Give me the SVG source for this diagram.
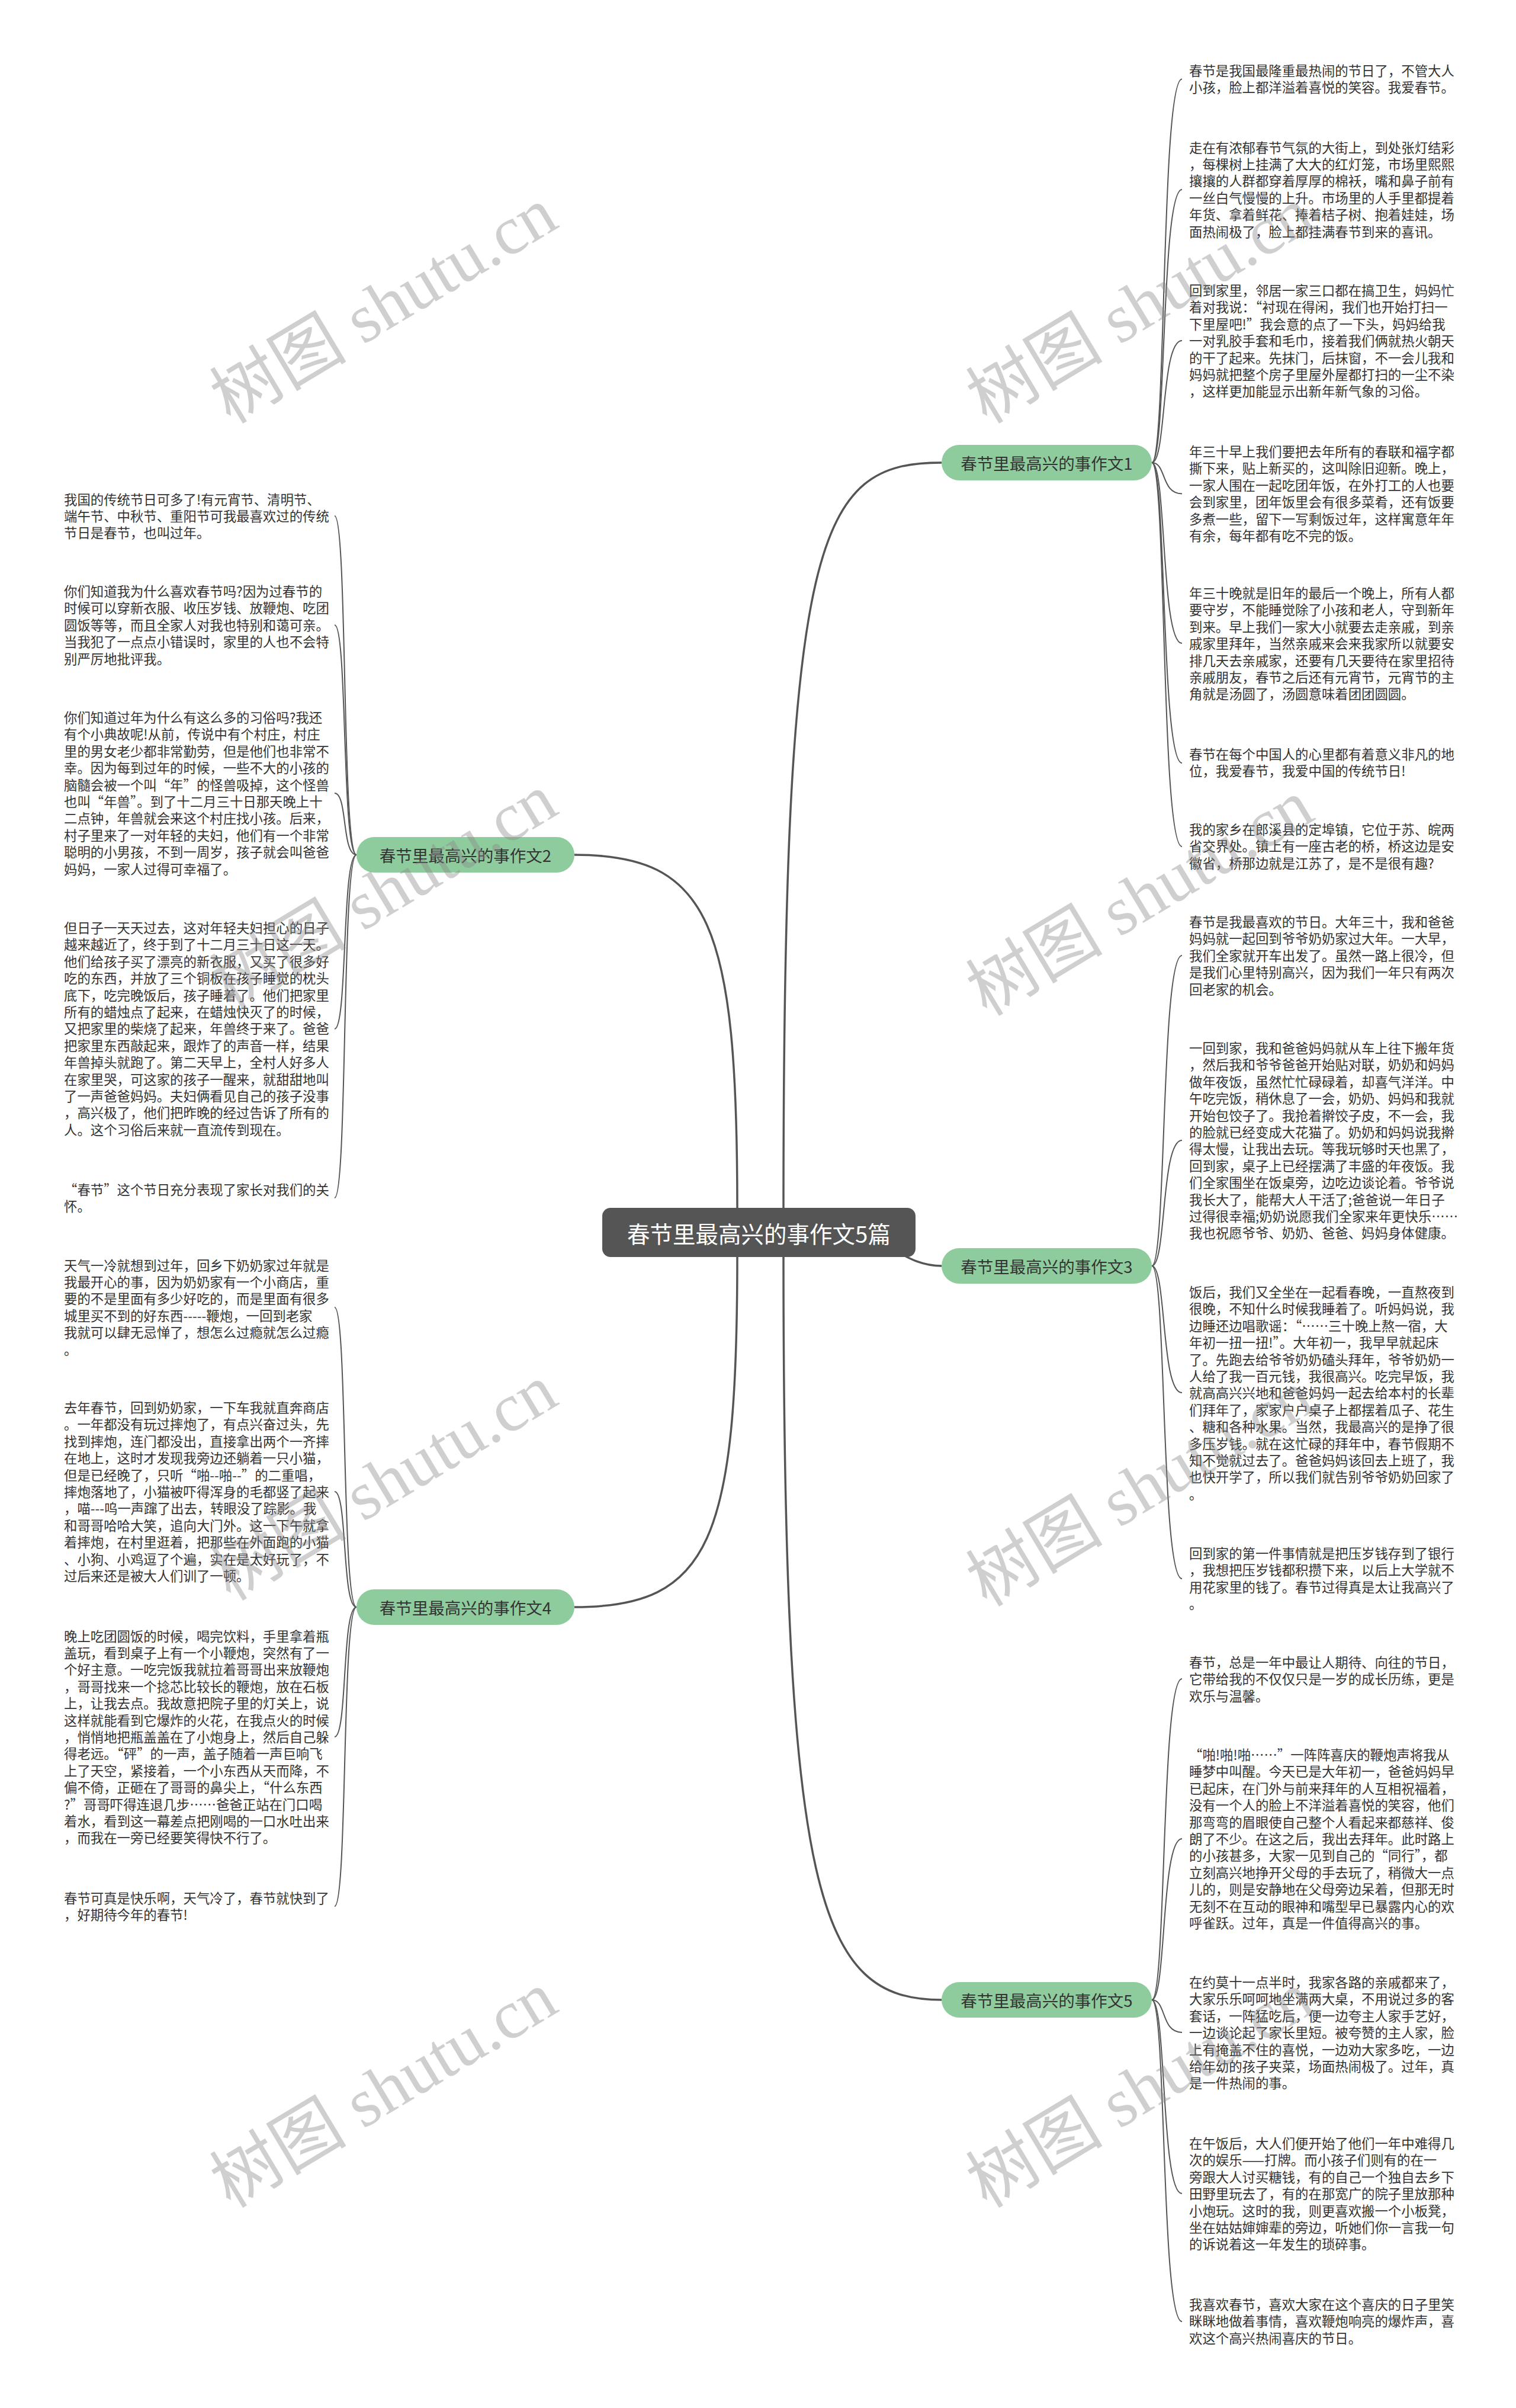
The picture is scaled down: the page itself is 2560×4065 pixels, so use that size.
<svg xmlns="http://www.w3.org/2000/svg" width="2560" height="4065" viewBox="0 0 2560 4065">
<style>
.t{font-family:"Noto Sans CJK SC","Noto Sans",sans-serif;font-size:22.4px;fill:#333}
.bt{font-family:"Noto Sans CJK SC","Noto Sans",sans-serif;font-size:27.5px;fill:#333;text-anchor:middle;dominant-baseline:central}
.ct{font-family:"Noto Sans CJK SC","Noto Sans",sans-serif;font-size:38.5px;fill:#fff;text-anchor:middle;dominant-baseline:central}
.bn{fill:#8fcc9d}
.lk{fill:none;stroke:#555;stroke-width:2}
.mk{fill:none;stroke:#555;stroke-width:3.5}
.wm{font-family:"Liberation Serif","Noto Sans CJK SC",serif;font-size:116px;fill:#888;opacity:.4;text-anchor:middle;dominant-baseline:central}
</style>
<rect width="2560" height="4065" fill="#fff"/>
<g id="connectors">
<path class="mk" d="M1323 2040 C1323 900 1380 781 1590 781"/>
<path class="mk" d="M1400 2080 C1500 2080 1520 2137 1590 2137"/>
<path class="mk" d="M1323 2120 C1323 3200 1380 3376 1590 3376"/>
<path class="mk" d="M1245 2040 C1245 1560 1200 1443 970 1443"/>
<path class="mk" d="M1245 2120 C1245 2600 1200 2713 970 2713"/>
<g id="leaf-links-1">
<path class="lk" d="M1945 781 C1970 781 1960 133.5 1996 133.5"/>
<path class="lk" d="M1945 781 C1970 781 1960 320 1996 320"/>
<path class="lk" d="M1945 781 C1970 781 1960 575 1996 575"/>
<path class="lk" d="M1945 781 C1970 781 1960 833.5 1996 833.5"/>
<path class="lk" d="M1945 781 C1970 781 1960 1086 1996 1086"/>
<path class="lk" d="M1945 781 C1970 781 1960 1288 1996 1288"/>
<path class="lk" d="M1945 781 C1970 781 1960 1429 1996 1429"/>
</g>
<g id="leaf-links-3">
<path class="lk" d="M1945 2137 C1970 2137 1960 1613 1996 1613"/>
<path class="lk" d="M1945 2137 C1970 2137 1960 1925 1996 1925"/>
<path class="lk" d="M1945 2137 C1970 2137 1960 2351 1996 2351"/>
<path class="lk" d="M1945 2137 C1970 2137 1960 2665 1996 2665"/>
</g>
<g id="leaf-links-5">
<path class="lk" d="M1945 3376 C1970 3376 1960 2834 1996 2834"/>
<path class="lk" d="M1945 3376 C1970 3376 1960 3104 1996 3104"/>
<path class="lk" d="M1945 3376 C1970 3376 1960 3431 1996 3431"/>
<path class="lk" d="M1945 3376 C1970 3376 1960 3703 1996 3703"/>
<path class="lk" d="M1945 3376 C1970 3376 1960 3919 1996 3919"/>
</g>
<g id="leaf-links-2">
<path class="lk" d="M602 1443 C577 1443 587 871 565 871"/>
<path class="lk" d="M602 1443 C577 1443 587 1055 565 1055"/>
<path class="lk" d="M602 1443 C577 1443 587 1339 565 1339"/>
<path class="lk" d="M602 1443 C577 1443 587 1737 565 1737"/>
<path class="lk" d="M602 1443 C577 1443 587 2022 565 2022"/>
</g>
<g id="leaf-links-4">
<path class="lk" d="M602 2713 C577 2713 587 2207 565 2207"/>
<path class="lk" d="M602 2713 C577 2713 587 2518 565 2518"/>
<path class="lk" d="M602 2713 C577 2713 587 2932 565 2932"/>
<path class="lk" d="M602 2713 C577 2713 587 3218 565 3218"/>
</g>
</g>
<g id="center">
<rect x="1017" y="2039" width="529" height="83" rx="14" fill="#555"/>
<text class="ct" x="1281.5" y="2080.5">春节里最高兴的事作文5篇</text>
</g>
<g id="branch1"><rect class="bn" x="1590" y="751" width="355" height="60" rx="30"/><text class="bt" x="1767.5" y="781">春节里最高兴的事作文1</text></g>
<g id="branch3"><rect class="bn" x="1590" y="2107" width="355" height="60" rx="30"/><text class="bt" x="1767.5" y="2137">春节里最高兴的事作文3</text></g>
<g id="branch5"><rect class="bn" x="1590" y="3346" width="355" height="60" rx="30"/><text class="bt" x="1767.5" y="3376">春节里最高兴的事作文5</text></g>
<g id="branch2"><rect class="bn" x="602" y="1413" width="368" height="60" rx="30"/><text class="bt" x="786" y="1443">春节里最高兴的事作文2</text></g>
<g id="branch4"><rect class="bn" x="602" y="2683" width="368" height="60" rx="30"/><text class="bt" x="786" y="2713">春节里最高兴的事作文4</text></g>

<g id="leaf-1-1"><text class="t" x="2008" y="128"><tspan x="2008">春节是我国最隆重最热闹的节日了，不管大人</tspan><tspan x="2008" dy="28.4">小孩，脸上都洋溢着喜悦的笑容。我爱春节。</tspan></text></g>
<g id="leaf-1-2"><text class="t" x="2008" y="257.5"><tspan x="2008">走在有浓郁春节气氛的大街上，到处张灯结彩</tspan><tspan x="2008" dy="28.4">，每棵树上挂满了大大的红灯笼，市场里熙熙</tspan><tspan x="2008" dy="28.4">攘攘的人群都穿着厚厚的棉袄，嘴和鼻子前有</tspan><tspan x="2008" dy="28.4">一丝白气慢慢的上升。市场里的人手里都提着</tspan><tspan x="2008" dy="28.4">年货、拿着鲜花、捧着桔子树、抱着娃娃，场</tspan><tspan x="2008" dy="28.4">面热闹极了，脸上都挂满春节到来的喜讯。</tspan></text></g>
<g id="leaf-1-3"><text class="t" x="2008" y="499"><tspan x="2008">回到家里，邻居一家三口都在搞卫生，妈妈忙</tspan><tspan x="2008" dy="28.4">着对我说：“衬现在得闲，我们也开始打扫一</tspan><tspan x="2008" dy="28.4">下里屋吧!”我会意的点了一下头，妈妈给我</tspan><tspan x="2008" dy="28.4">一对乳胶手套和毛巾，接着我们俩就热火朝天</tspan><tspan x="2008" dy="28.4">的干了起来。先抹门，后抹窗，不一会儿我和</tspan><tspan x="2008" dy="28.4">妈妈就把整个房子里屋外屋都打扫的一尘不染</tspan><tspan x="2008" dy="28.4">，这样更加能显示出新年新气象的习俗。</tspan></text></g>
<g id="leaf-1-4"><text class="t" x="2008" y="771"><tspan x="2008">年三十早上我们要把去年所有的春联和福字都</tspan><tspan x="2008" dy="28.4">撕下来，贴上新买的，这叫除旧迎新。晚上，</tspan><tspan x="2008" dy="28.4">一家人围在一起吃团年饭，在外打工的人也要</tspan><tspan x="2008" dy="28.4">会到家里，团年饭里会有很多菜肴，还有饭要</tspan><tspan x="2008" dy="28.4">多煮一些，留下一写剩饭过年，这样寓意年年</tspan><tspan x="2008" dy="28.4">有余，每年都有吃不完的饭。</tspan></text></g>
<g id="leaf-1-5"><text class="t" x="2008" y="1010"><tspan x="2008">年三十晚就是旧年的最后一个晚上，所有人都</tspan><tspan x="2008" dy="28.4">要守岁，不能睡觉除了小孩和老人，守到新年</tspan><tspan x="2008" dy="28.4">到来。早上我们一家大小就要去走亲戚，到亲</tspan><tspan x="2008" dy="28.4">戚家里拜年，当然亲戚来会来我家所以就要安</tspan><tspan x="2008" dy="28.4">排几天去亲戚家，还要有几天要待在家里招待</tspan><tspan x="2008" dy="28.4">亲戚朋友，春节之后还有元宵节，元宵节的主</tspan><tspan x="2008" dy="28.4">角就是汤圆了，汤圆意味着团团圆圆。</tspan></text></g>
<g id="leaf-1-6"><text class="t" x="2008" y="1282"><tspan x="2008">春节在每个中国人的心里都有着意义非凡的地</tspan><tspan x="2008" dy="28.4">位，我爱春节，我爱中国的传统节日!</tspan></text></g>
<g id="leaf-1-7"><text class="t" x="2008" y="1409"><tspan x="2008">我的家乡在郎溪县的定埠镇，它位于苏、皖两</tspan><tspan x="2008" dy="28.4">省交界处。镇上有一座古老的桥，桥这边是安</tspan><tspan x="2008" dy="28.4">徽省，桥那边就是江苏了，是不是很有趣?</tspan></text></g>

<g id="leaf-3-1"><text class="t" x="2008" y="1565"><tspan x="2008">春节是我最喜欢的节日。大年三十，我和爸爸</tspan><tspan x="2008" dy="28.4">妈妈就一起回到爷爷奶奶家过大年。一大早，</tspan><tspan x="2008" dy="28.4">我们全家就开车出发了。虽然一路上很冷，但</tspan><tspan x="2008" dy="28.4">是我们心里特别高兴，因为我们一年只有两次</tspan><tspan x="2008" dy="28.4">回老家的机会。</tspan></text></g>
<g id="leaf-3-2"><text class="t" x="2008" y="1778"><tspan x="2008">一回到家，我和爸爸妈妈就从车上往下搬年货</tspan><tspan x="2008" dy="28.4">，然后我和爷爷爸爸开始贴对联，奶奶和妈妈</tspan><tspan x="2008" dy="28.4">做年夜饭，虽然忙忙碌碌着，却喜气洋洋。中</tspan><tspan x="2008" dy="28.4">午吃完饭，稍休息了一会，奶奶、妈妈和我就</tspan><tspan x="2008" dy="28.4">开始包饺子了。我抢着擀饺子皮，不一会，我</tspan><tspan x="2008" dy="28.4">的脸就已经变成大花猫了。奶奶和妈妈说我擀</tspan><tspan x="2008" dy="28.4">得太慢，让我出去玩。等我玩够时天也黑了，</tspan><tspan x="2008" dy="28.4">回到家，桌子上已经摆满了丰盛的年夜饭。我</tspan><tspan x="2008" dy="28.4">们全家围坐在饭桌旁，边吃边谈论着。爷爷说</tspan><tspan x="2008" dy="28.4">我长大了，能帮大人干活了;爸爸说一年日子</tspan><tspan x="2008" dy="28.4">过得很幸福;奶奶说愿我们全家来年更快乐……</tspan><tspan x="2008" dy="28.4">我也祝愿爷爷、奶奶、爸爸、妈妈身体健康。</tspan></text></g>
<g id="leaf-3-3"><text class="t" x="2008" y="2190"><tspan x="2008">饭后，我们又全坐在一起看春晚，一直熬夜到</tspan><tspan x="2008" dy="28.4">很晚，不知什么时候我睡着了。听妈妈说，我</tspan><tspan x="2008" dy="28.4">边睡还边唱歌谣：“……三十晚上熬一宿，大</tspan><tspan x="2008" dy="28.4">年初一扭一扭!”。大年初一，我早早就起床</tspan><tspan x="2008" dy="28.4">了。先跑去给爷爷奶奶磕头拜年，爷爷奶奶一</tspan><tspan x="2008" dy="28.4">人给了我一百元钱，我很高兴。吃完早饭，我</tspan><tspan x="2008" dy="28.4">就高高兴兴地和爸爸妈妈一起去给本村的长辈</tspan><tspan x="2008" dy="28.4">们拜年了，家家户户桌子上都摆着瓜子、花生</tspan><tspan x="2008" dy="28.4">、糖和各种水果。当然，我最高兴的是挣了很</tspan><tspan x="2008" dy="28.4">多压岁钱。就在这忙碌的拜年中，春节假期不</tspan><tspan x="2008" dy="28.4">知不觉就过去了。爸爸妈妈该回去上班了，我</tspan><tspan x="2008" dy="28.4">也快开学了，所以我们就告别爷爷奶奶回家了</tspan><tspan x="2008" dy="28.4">。</tspan></text></g>
<g id="leaf-3-4"><text class="t" x="2008" y="2631"><tspan x="2008">回到家的第一件事情就是把压岁钱存到了银行</tspan><tspan x="2008" dy="28.4">，我想把压岁钱都积攒下来，以后上大学就不</tspan><tspan x="2008" dy="28.4">用花家里的钱了。春节过得真是太让我高兴了</tspan><tspan x="2008" dy="28.4">。</tspan></text></g>

<g id="leaf-5-1"><text class="t" x="2008" y="2815"><tspan x="2008">春节，总是一年中最让人期待、向往的节日，</tspan><tspan x="2008" dy="28.4">它带给我的不仅仅只是一岁的成长历练，更是</tspan><tspan x="2008" dy="28.4">欢乐与温馨。</tspan></text></g>
<g id="leaf-5-2"><text class="t" x="2008" y="2971"><tspan x="2008">“啪!啪!啪……”一阵阵喜庆的鞭炮声将我从</tspan><tspan x="2008" dy="28.4">睡梦中叫醒。今天已是大年初一，爸爸妈妈早</tspan><tspan x="2008" dy="28.4">已起床，在门外与前来拜年的人互相祝福着，</tspan><tspan x="2008" dy="28.4">没有一个人的脸上不洋溢着喜悦的笑容，他们</tspan><tspan x="2008" dy="28.4">那弯弯的眉眼使自己整个人看起来都慈祥、俊</tspan><tspan x="2008" dy="28.4">朗了不少。在这之后，我出去拜年。此时路上</tspan><tspan x="2008" dy="28.4">的小孩甚多，大家一见到自己的“同行”，都</tspan><tspan x="2008" dy="28.4">立刻高兴地挣开父母的手去玩了，稍微大一点</tspan><tspan x="2008" dy="28.4">儿的，则是安静地在父母旁边呆着，但那无时</tspan><tspan x="2008" dy="28.4">无刻不在互动的眼神和嘴型早已暴露内心的欢</tspan><tspan x="2008" dy="28.4">呼雀跃。过年，真是一件值得高兴的事。</tspan></text></g>
<g id="leaf-5-3"><text class="t" x="2008" y="3355"><tspan x="2008">在约莫十一点半时，我家各路的亲戚都来了，</tspan><tspan x="2008" dy="28.4">大家乐乐呵呵地坐满两大桌，不用说过多的客</tspan><tspan x="2008" dy="28.4">套话，一阵猛吃后，便一边夸主人家手艺好，</tspan><tspan x="2008" dy="28.4">一边谈论起了家长里短。被夸赞的主人家，脸</tspan><tspan x="2008" dy="28.4">上有掩盖不住的喜悦，一边劝大家多吃，一边</tspan><tspan x="2008" dy="28.4">给年幼的孩子夹菜，场面热闹极了。过年，真</tspan><tspan x="2008" dy="28.4">是一件热闹的事。</tspan></text></g>
<g id="leaf-5-4"><text class="t" x="2008" y="3627"><tspan x="2008">在午饭后，大人们便开始了他们一年中难得几</tspan><tspan x="2008" dy="28.4">次的娱乐——打牌。而小孩子们则有的在一</tspan><tspan x="2008" dy="28.4">旁跟大人讨买糖钱，有的自己一个独自去乡下</tspan><tspan x="2008" dy="28.4">田野里玩去了，有的在那宽广的院子里放那种</tspan><tspan x="2008" dy="28.4">小炮玩。这时的我，则更喜欢搬一个小板凳，</tspan><tspan x="2008" dy="28.4">坐在姑姑婶婶辈的旁边，听她们你一言我一句</tspan><tspan x="2008" dy="28.4">的诉说着这一年发生的琐碎事。</tspan></text></g>
<g id="leaf-5-5"><text class="t" x="2008" y="3899"><tspan x="2008">我喜欢春节，喜欢大家在这个喜庆的日子里笑</tspan><tspan x="2008" dy="28.4">眯眯地做着事情，喜欢鞭炮响亮的爆炸声，喜</tspan><tspan x="2008" dy="28.4">欢这个高兴热闹喜庆的节日。</tspan></text></g>

<g id="leaf-2-1"><text class="t" x="108" y="851.5"><tspan x="108">我国的传统节日可多了!有元宵节、清明节、</tspan><tspan x="108" dy="28.4">端午节、中秋节、重阳节可我最喜欢过的传统</tspan><tspan x="108" dy="28.4">节日是春节，也叫过年。</tspan></text></g>
<g id="leaf-2-2"><text class="t" x="108" y="1007"><tspan x="108">你们知道我为什么喜欢春节吗?因为过春节的</tspan><tspan x="108" dy="28.4">时候可以穿新衣服、收压岁钱、放鞭炮、吃团</tspan><tspan x="108" dy="28.4">圆饭等等，而且全家人对我也特别和蔼可亲。</tspan><tspan x="108" dy="28.4">当我犯了一点点小错误时，家里的人也不会特</tspan><tspan x="108" dy="28.4">别严厉地批评我。</tspan></text></g>
<g id="leaf-2-3"><text class="t" x="108" y="1220"><tspan x="108">你们知道过年为什么有这么多的习俗吗?我还</tspan><tspan x="108" dy="28.4">有个小典故呢!从前，传说中有个村庄，村庄</tspan><tspan x="108" dy="28.4">里的男女老少都非常勤劳，但是他们也非常不</tspan><tspan x="108" dy="28.4">幸。因为每到过年的时候，一些不大的小孩的</tspan><tspan x="108" dy="28.4">脑髓会被一个叫“年”的怪兽吸掉，这个怪兽</tspan><tspan x="108" dy="28.4">也叫“年兽”。到了十二月三十日那天晚上十</tspan><tspan x="108" dy="28.4">二点钟，年兽就会来这个村庄找小孩。后来，</tspan><tspan x="108" dy="28.4">村子里来了一对年轻的夫妇，他们有一个非常</tspan><tspan x="108" dy="28.4">聪明的小男孩，不到一周岁，孩子就会叫爸爸</tspan><tspan x="108" dy="28.4">妈妈，一家人过得可幸福了。</tspan></text></g>
<g id="leaf-2-4"><text class="t" x="108" y="1575"><tspan x="108">但日子一天天过去，这对年轻夫妇担心的日子</tspan><tspan x="108" dy="28.4">越来越近了，终于到了十二月三十日这一天。</tspan><tspan x="108" dy="28.4">他们给孩子买了漂亮的新衣服，又买了很多好</tspan><tspan x="108" dy="28.4">吃的东西，并放了三个铜板在孩子睡觉的枕头</tspan><tspan x="108" dy="28.4">底下，吃完晚饭后，孩子睡着了。他们把家里</tspan><tspan x="108" dy="28.4">所有的蜡烛点了起来，在蜡烛快灭了的时候，</tspan><tspan x="108" dy="28.4">又把家里的柴烧了起来，年兽终于来了。爸爸</tspan><tspan x="108" dy="28.4">把家里东西敲起来，跟炸了的声音一样，结果</tspan><tspan x="108" dy="28.4">年兽掉头就跑了。第二天早上，全村人好多人</tspan><tspan x="108" dy="28.4">在家里哭，可这家的孩子一醒来，就甜甜地叫</tspan><tspan x="108" dy="28.4">了一声爸爸妈妈。夫妇俩看见自己的孩子没事</tspan><tspan x="108" dy="28.4">，高兴极了，他们把昨晚的经过告诉了所有的</tspan><tspan x="108" dy="28.4">人。这个习俗后来就一直流传到现在。</tspan></text></g>
<g id="leaf-2-5"><text class="t" x="108" y="2016.5"><tspan x="108">“春节”这个节日充分表现了家长对我们的关</tspan><tspan x="108" dy="28.4">怀。</tspan></text></g>

<g id="leaf-4-1"><text class="t" x="108" y="2144.5"><tspan x="108">天气一冷就想到过年，回乡下奶奶家过年就是</tspan><tspan x="108" dy="28.4">我最开心的事，因为奶奶家有一个小商店，重</tspan><tspan x="108" dy="28.4">要的不是里面有多少好吃的，而是里面有很多</tspan><tspan x="108" dy="28.4">城里买不到的好东西-----鞭炮，一回到老家</tspan><tspan x="108" dy="28.4">我就可以肆无忌惮了，想怎么过瘾就怎么过瘾</tspan><tspan x="108" dy="28.4">。</tspan></text></g>
<g id="leaf-4-2"><text class="t" x="108" y="2385"><tspan x="108">去年春节，回到奶奶家，一下车我就直奔商店</tspan><tspan x="108" dy="28.4">。一年都没有玩过摔炮了，有点兴奋过头，先</tspan><tspan x="108" dy="28.4">找到摔炮，连门都没出，直接拿出两个一齐摔</tspan><tspan x="108" dy="28.4">在地上，这时才发现我旁边还躺着一只小猫，</tspan><tspan x="108" dy="28.4">但是已经晚了，只听“啪--啪--”的二重唱，</tspan><tspan x="108" dy="28.4">摔炮落地了，小猫被吓得浑身的毛都竖了起来</tspan><tspan x="108" dy="28.4">，喵---呜一声蹿了出去，转眼没了踪影。我</tspan><tspan x="108" dy="28.4">和哥哥哈哈大笑，追向大门外。这一下午就拿</tspan><tspan x="108" dy="28.4">着摔炮，在村里逛着，把那些在外面跑的小猫</tspan><tspan x="108" dy="28.4">、小狗、小鸡逗了个遍，实在是太好玩了，不</tspan><tspan x="108" dy="28.4">过后来还是被大人们训了一顿。</tspan></text></g>
<g id="leaf-4-3"><text class="t" x="108" y="2770.5"><tspan x="108">晚上吃团圆饭的时候，喝完饮料，手里拿着瓶</tspan><tspan x="108" dy="28.4">盖玩，看到桌子上有一个小鞭炮，突然有了一</tspan><tspan x="108" dy="28.4">个好主意。一吃完饭我就拉着哥哥出来放鞭炮</tspan><tspan x="108" dy="28.4">，哥哥找来一个捻芯比较长的鞭炮，放在石板</tspan><tspan x="108" dy="28.4">上，让我去点。我故意把院子里的灯关上，说</tspan><tspan x="108" dy="28.4">这样就能看到它爆炸的火花，在我点火的时候</tspan><tspan x="108" dy="28.4">，悄悄地把瓶盖盖在了小炮身上，然后自己躲</tspan><tspan x="108" dy="28.4">得老远。“砰”的一声，盖子随着一声巨响飞</tspan><tspan x="108" dy="28.4">上了天空，紧接着，一个小东西从天而降，不</tspan><tspan x="108" dy="28.4">偏不倚，正砸在了哥哥的鼻尖上，“什么东西</tspan><tspan x="108" dy="28.4">?”哥哥吓得连退几步……爸爸正站在门口喝</tspan><tspan x="108" dy="28.4">着水，看到这一幕差点把刚喝的一口水吐出来</tspan><tspan x="108" dy="28.4">，而我在一旁已经要笑得快不行了。</tspan></text></g>
<g id="leaf-4-4"><text class="t" x="108" y="3212.5"><tspan x="108">春节可真是快乐啊，天气冷了，春节就快到了</tspan><tspan x="108" dy="28.4">，好期待今年的春节!</tspan></text></g>

<g id="watermarks">
<text class="wm" transform="translate(648 516) rotate(-31)">树图 shutu.cn</text>
<text class="wm" transform="translate(1925 516) rotate(-31)">树图 shutu.cn</text>
<text class="wm" transform="translate(648 1506) rotate(-31)">树图 shutu.cn</text>
<text class="wm" transform="translate(1925 1516) rotate(-31)">树图 shutu.cn</text>
<text class="wm" transform="translate(648 2503) rotate(-31)">树图 shutu.cn</text>
<text class="wm" transform="translate(1925 2513) rotate(-31)">树图 shutu.cn</text>
<text class="wm" transform="translate(648 3528) rotate(-31)">树图 shutu.cn</text>
<text class="wm" transform="translate(1925 3528) rotate(-31)">树图 shutu.cn</text>
</g>
</svg>
